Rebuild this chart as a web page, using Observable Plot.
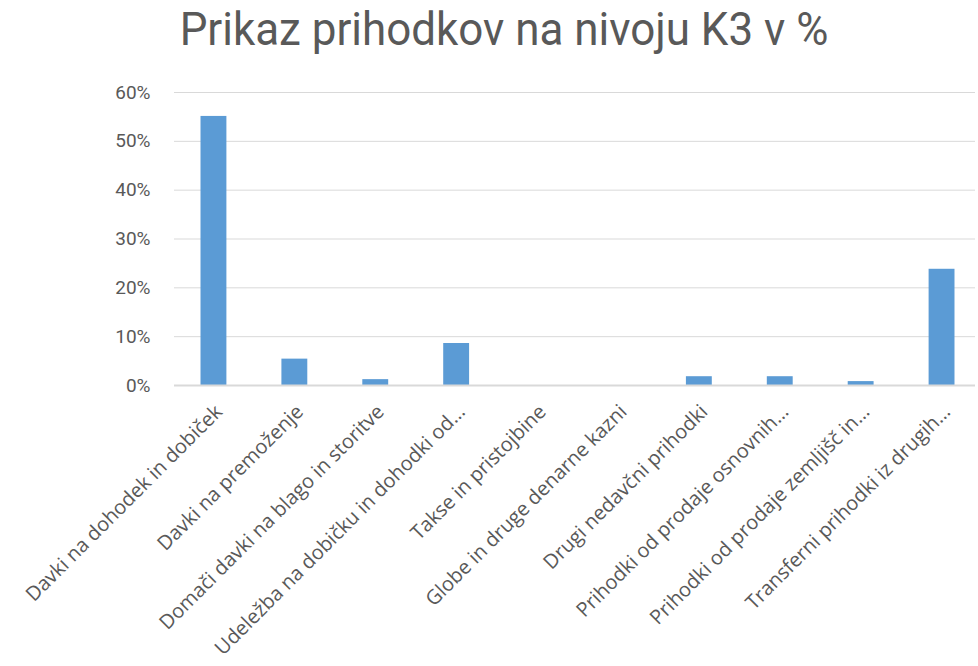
<!DOCTYPE html>
<html><head><meta charset="utf-8">
<script src="https://cdn.jsdelivr.net/npm/d3@7"></script>
<script src="https://cdn.jsdelivr.net/npm/@observablehq/plot@0.6"></script>
<style>
html,body{margin:0;padding:0;background:#fff;overflow:hidden;}
#title{position:relative;height:70px;}
#title span{position:absolute;left:504px;top:0px;transform:translateX(-50%) scaleX(0.955);transform-origin:center;
 white-space:nowrap;font-family:Roboto,sans-serif;font-size:46px;font-weight:normal;color:#595959;line-height:58px;}
svg{display:block;}
</style></head><body>
<div id="title"><span>Prikaz prihodkov na nivoju K3 v %</span></div>
<div id="chart"></div>
<script>
const categories = [
  "Davki na dohodek in dobiček",
  "Davki na premoženje",
  "Domači davki na blago in storitve",
  "Udeležba na dobičku in dohodki od…",
  "Takse in pristojbine",
  "Globe in druge denarne kazni",
  "Drugi nedavčni prihodki",
  "Prihodki od prodaje osnovnih…",
  "Prihodki od prodaje zemljišč in…",
  "Transferni prihodki iz drugih…"
];
const values = [55.1, 5.4, 1.2, 8.6, 0, 0, 1.8, 1.8, 0.8, 23.8];
const yTicks = [0, 10, 20, 30, 40, 50, 60];

const data = categories.map((c, i) => ({cat: c, val: values[i]}));

const chart = Plot.plot({
  width: 978,
  height: 596,
  marginTop: 22,
  marginBottom: 281,
  marginLeft: 174,
  marginRight: 3,
  style: {fontFamily: "'Open Sans', sans-serif", color: "#595959", overflow: "visible"},
  x: {domain: categories, range: [173, 982], round: false, paddingInner: 0.68, paddingOuter: 0.34, label: null},
  y: {domain: [0, 60], label: null},
  marks: [
    Plot.ruleY(yTicks.filter(d => d > 0), {stroke: "#d9d9d9", strokeWidth: 1}),
    Plot.barY(data, {x: "cat", y: "val", fill: "#5b9bd5"}),
    Plot.ruleY([0], {stroke: "#d9d9d9", strokeWidth: 2}),
    Plot.axisY({ticks: yTicks, tickSize: 0, tickPadding: 24, tickFormat: d => d + "%",
      fontSize: 19, fill: "#595959",
      fontFamily: "Roboto,sans-serif", label: null}),
    Plot.axisX({tickSize: 0, tickPadding: 18, tickRotate: -45, fontSize: 20, dx: 5, dy: 5, fill: "#595959", label: null})
  ]
});
document.getElementById("chart").appendChild(chart);
</script>
</body></html>
